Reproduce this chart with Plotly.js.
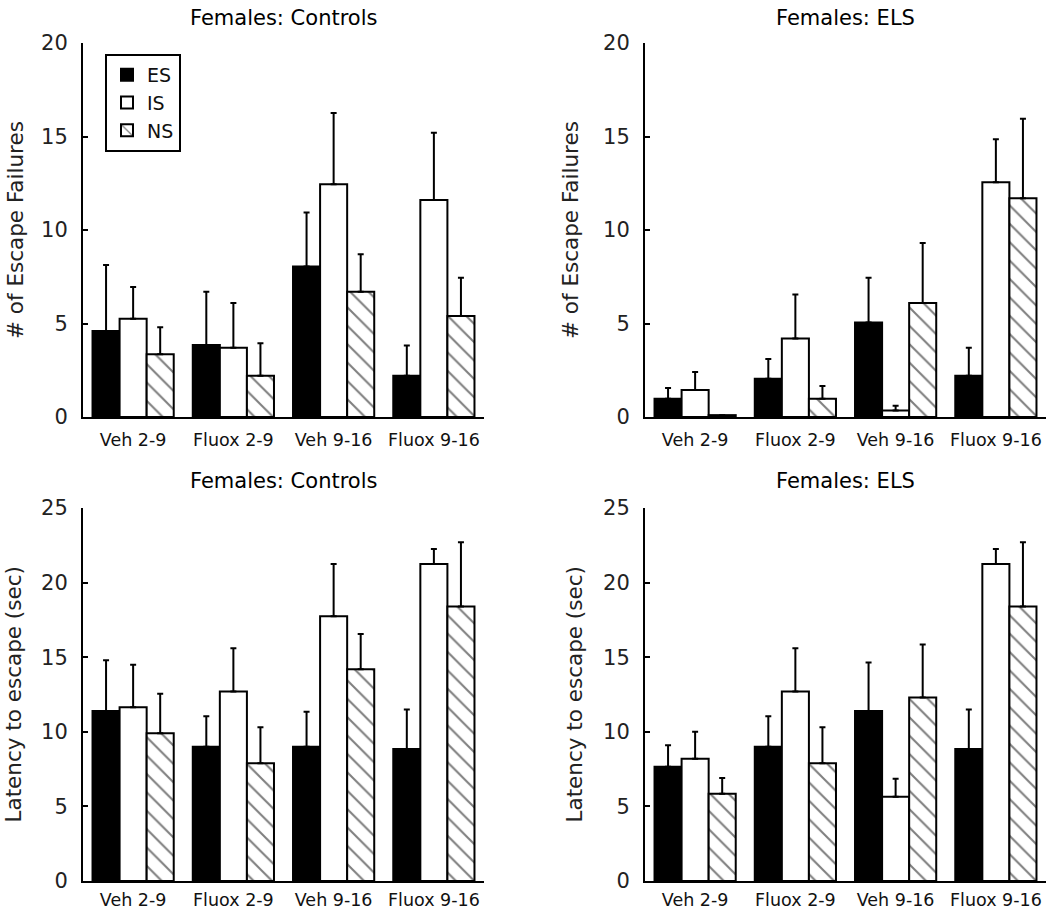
<!DOCTYPE html>
<html>
<head>
<meta charset="utf-8">
<script src="https://cdn.plot.ly/plotly-3.0.1.min.js"></script>
<style>html,body{margin:0;padding:0;background:#fff;}</style>
</head>
<body>
<div id="chart" style="width:1050px;height:910px;"></div>
<script>
// ---- data ----
const categories = ['Veh 2-9', 'Fluox 2-9', 'Veh 9-16', 'Fluox 9-16'];
const seriesNames = ['ES', 'IS', 'NS'];
const panelTitles = ['Females: Controls', 'Females: ELS', 'Females: Controls', 'Females: ELS'];
const yTitles = ['# of Escape Failures', '# of Escape Failures', 'Latency to escape (sec)', 'Latency to escape (sec)'];

// Escape failures, Controls
const failCtrlES = [4.6, 3.85, 8.05, 2.2];
const failCtrlESsem = [3.53, 2.85, 2.88, 1.62];
const failCtrlIS = [5.25, 3.7, 12.45, 11.6];
const failCtrlISsem = [1.7, 2.4, 3.8, 3.6];
const failCtrlNS = [3.35, 2.2, 6.7, 5.4];
const failCtrlNSsem = [1.45, 1.75, 2.0, 2.05];

// Escape failures, ELS
const failElsES = [0.98, 2.05, 5.05, 2.2];
const failElsESsem = [0.57, 1.05, 2.4, 1.5];
const failElsIS = [1.45, 4.2, 0.35, 12.55];
const failElsISsem = [0.95, 2.35, 0.25, 2.3];
const failElsNS = [0.1, 0.98, 6.1, 11.7];
const failElsNSsem = [0, 0.68, 3.2, 4.25];

// Latency, Controls
const latCtrlES = [11.4, 9.0, 9.0, 8.85];
const latCtrlESsem = [3.4, 2.05, 2.35, 2.65];
const latCtrlIS = [11.65, 12.7, 17.75, 21.25];
const latCtrlISsem = [2.85, 2.9, 3.5, 1.0];
const latCtrlNS = [9.9, 7.9, 14.2, 18.4];
const latCtrlNSsem = [2.65, 2.4, 2.35, 4.3];

// Latency, ELS
const latElsES = [7.65, 9.0, 11.4, 8.85];
const latElsESsem = [1.45, 2.05, 3.25, 2.65];
const latElsIS = [8.2, 12.7, 5.65, 21.25];
const latElsISsem = [1.8, 2.9, 1.2, 1.0];
const latElsNS = [5.85, 7.9, 12.3, 18.4];
const latElsNSsem = [1.05, 2.4, 3.55, 4.3];

const yRanges = [[0, 20], [0, 20], [0, 25], [0, 25]];

// ---- build ----
const FONT = 'DejaVu Sans, Arial, sans-serif';
const panels = [
  [[failCtrlES, failCtrlESsem], [failCtrlIS, failCtrlISsem], [failCtrlNS, failCtrlNSsem]],
  [[failElsES, failElsESsem], [failElsIS, failElsISsem], [failElsNS, failElsNSsem]],
  [[latCtrlES, latCtrlESsem], [latCtrlIS, latCtrlISsem], [latCtrlNS, latCtrlNSsem]],
  [[latElsES, latElsESsem], [latElsIS, latElsISsem], [latElsNS, latElsNSsem]]
];

function markerFor(i) {
  const line = {color: '#000', width: 2};
  if (i === 0) return {color: '#000', line: line};
  if (i === 1) return {color: '#fff', line: line};
  return {color: '#fff', line: line,
    pattern: {shape: '\\', fgcolor: '#000', bgcolor: '#fff', size: 13, solidity: 0.16, fillmode: 'overlay'}};
}

const traces = [];
panels.forEach((p, pi) => {
  const ax = pi === 0 ? '' : String(pi + 1);
  p.forEach((s, si) => {
    traces.push({
      type: 'bar',
      x: categories,
      y: s[0],
      name: seriesNames[si],
      legendgroup: seriesNames[si],
      showlegend: pi === 0,
      xaxis: 'x' + ax,
      yaxis: 'y' + ax,
      marker: markerFor(si),
      error_y: {type: 'data', symmetric: false, array: s[1],
        arrayminus: s[1].map(() => 0), color: '#000', thickness: 2, width: 3},
      hoverinfo: 'x+y+name'
    });
  });
});

const px = v => v / 1050;
const py = v => 1 - v / 910;
const xDomL = [px(83), px(484)];
const xDomR = [px(645), px(1046)];
const yDomT = [py(417), py(43)];
const yDomB = [py(881), py(508)];

function xAxis(domain, anchor, standoff) {
  return {domain: domain, anchor: anchor, type: 'category', range: [-0.5, 3.5],
    showline: true, linecolor: '#000', linewidth: 2, ticks: '', showgrid: false,
    zeroline: false, tickfont: {family: FONT, size: 17.5, color: '#111'},
    ticklabelstandoff: standoff, fixedrange: true};
}
function yAxis(domain, anchor, range) {
  return {domain: domain, anchor: anchor, range: range, dtick: 5,
    showline: true, linecolor: '#000', linewidth: 2, ticks: 'inside', ticklen: 5,
    tickwidth: 2, tickcolor: '#000', showgrid: false, zeroline: false,
    tickfont: {family: FONT, size: 21, color: '#222'}, ticklabelstandoff: 9,
    fixedrange: true};
}

const annotations = [];
const titleX = [283.5, 845.5, 283.5, 845.5];
const titleY = [18, 18, 481, 481];
const yTitleX = [15, 570, 13, 574];
const yTitleY = [230, 230, 694.5, 694.5];
for (let i = 0; i < 4; i++) {
  annotations.push({xref: 'paper', yref: 'paper', x: px(titleX[i]), y: py(titleY[i]),
    xanchor: 'center', yanchor: 'middle', showarrow: false, text: panelTitles[i],
    font: {family: FONT, size: 21, color: '#000'}});
  annotations.push({xref: 'paper', yref: 'paper', x: px(yTitleX[i]), y: py(yTitleY[i]),
    xanchor: 'center', yanchor: 'middle', showarrow: false, text: yTitles[i], textangle: -90,
    font: {family: FONT, size: 21.5, color: '#222'}});
}

const layout = {
  width: 1050, height: 910, autosize: false,
  margin: {l: 0, r: 0, t: 0, b: 0},
  paper_bgcolor: '#fff', plot_bgcolor: '#fff',
  barmode: 'group', bargap: 0.19, bargroupgap: 0,
  font: {family: FONT, color: '#111'},
  showlegend: true,
  legend: {x: px(105), y: py(54), xanchor: 'left', yanchor: 'top',
    bordercolor: '#000', borderwidth: 2, bgcolor: '#fff',
    font: {family: FONT, size: 19, color: '#111'}, traceorder: 'normal'},
  xaxis: xAxis(xDomL, 'y', 6), yaxis: yAxis(yDomT, 'x', yRanges[0]),
  xaxis2: xAxis(xDomR, 'y2', 6), yaxis2: yAxis(yDomT, 'x2', yRanges[1]),
  xaxis3: xAxis(xDomL, 'y3', 2), yaxis3: yAxis(yDomB, 'x3', yRanges[2]),
  xaxis4: xAxis(xDomR, 'y4', 2), yaxis4: yAxis(yDomB, 'x4', yRanges[3]),
  annotations: annotations
};

Plotly.newPlot('chart', traces, layout, {displayModeBar: false, staticPlot: true});
</script>
</body>
</html>
